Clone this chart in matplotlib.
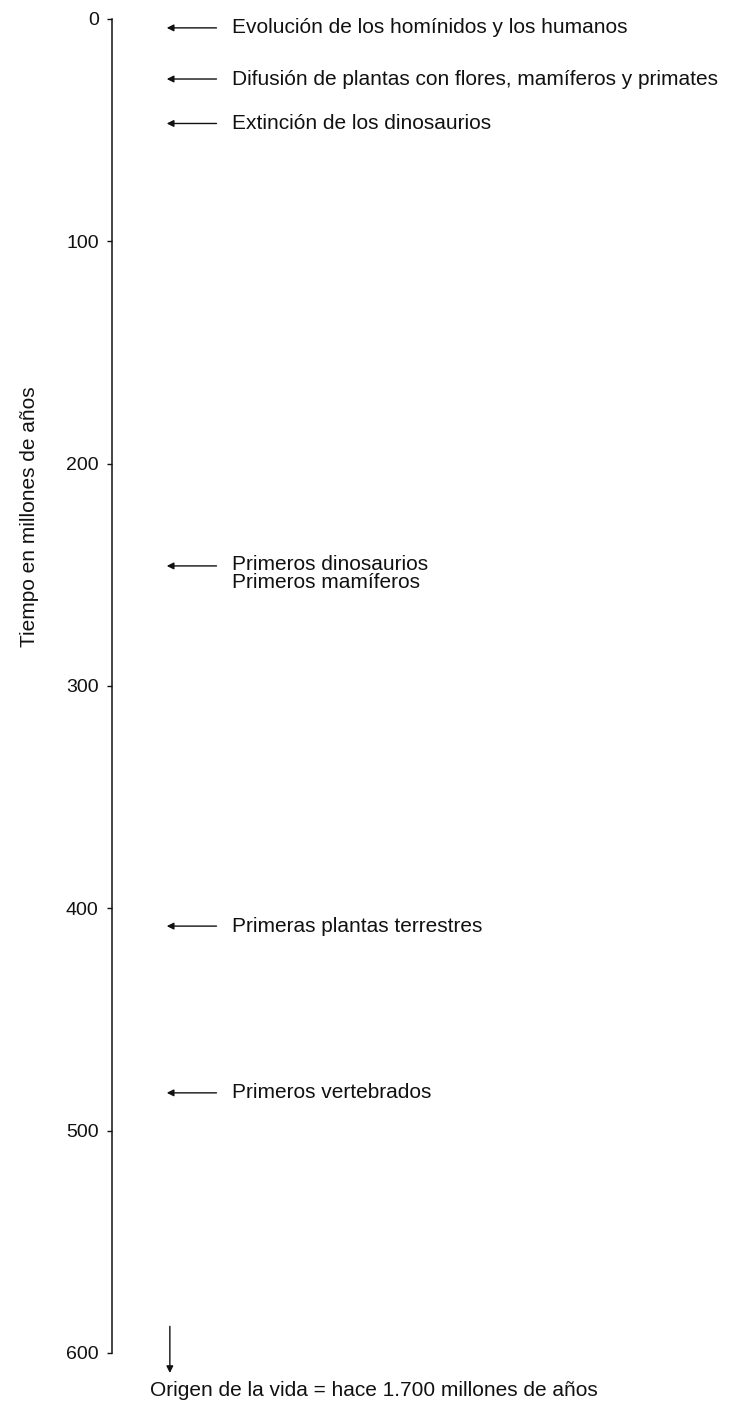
import numpy as np
import matplotlib.pyplot as plt

# Events (millions of years ago) and their labels
event_ages = [4, 27, 47, 246, 408, 483]
event_labels = [
    'Evolución de los homínidos y los humanos',
    'Difusión de plantas con flores, mamíferos y primates',
    'Extinción de los dinosaurios',
    'Primeros dinosaurios\nPrimeros mamíferos',
    'Primeras plantas terrestres',
    'Primeros vertebrados',
]

# Axis ticks
tick_values = [0, 100, 200, 300, 400, 500, 600]
axis_label = 'Tiempo en millones de años'
bottom_note = 'Origen de la vida = hace 1.700 millones de años'

plt.rcParams['font.family'] = ['Liberation Sans', 'DejaVu Sans']
ink = '#111111'

fig = plt.figure(figsize=(7.34, 14.06), dpi=100)
ax = fig.add_axes([0.1526, 0.0377, 0.8474, 0.9488])

ax.set_ylim(600, 0)
ax.set_xlim(0, 1)
ax.set_yticks(tick_values)
ax.set_yticklabels([str(v) for v in tick_values], fontsize=14)
ax.tick_params(axis='y', direction='out', length=3.6, width=1.0, pad=6, colors=ink)
ax.set_xticks([])
for side in ['top', 'right', 'bottom']:
    ax.spines[side].set_visible(False)
ax.spines['left'].set_linewidth(1.1)
ax.spines['left'].set_color(ink)

ax.set_ylabel(axis_label, fontsize=15, color=ink)
ax.yaxis.set_label_coords(-0.118, 0.627)

# Arrows pointing at the time axis with their labels
for age, label in zip(event_ages, event_labels):
    ax.annotate('', xy=(0.088, age), xytext=(0.168, age),
                arrowprops=dict(arrowstyle='-|>', color=ink, lw=1.0,
                                mutation_scale=10, shrinkA=0, shrinkB=0))
    if '\n' in label:
        # two lines: first line level with the arrow
        ax.text(0.193, age - 5, label, fontsize=15, va='top', color=ink,
                linespacing=0.95)
    else:
        ax.text(0.193, age, label, fontsize=15, va='center', color=ink)

# Arrow below the axis: life goes further back
ax.annotate('', xy=(0.093, 609), xytext=(0.093, 588),
            arrowprops=dict(arrowstyle='-|>', color=ink, lw=1.0,
                            mutation_scale=10, shrinkA=0, shrinkB=0),
            annotation_clip=False)
ax.text(0.421, 617, bottom_note, fontsize=15, va='center', ha='center',
        color=ink, clip_on=False)

fig.savefig('out.png', dpi=100)
